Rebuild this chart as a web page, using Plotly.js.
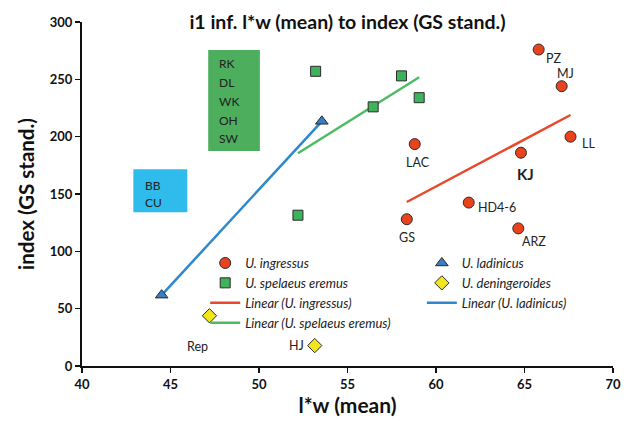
<!DOCTYPE html>
<html><head><meta charset="utf-8">
<script src="https://cdn.plot.ly/plotly-3.0.1.min.js"></script>
<style>html,body{margin:0;padding:0;background:#fff}#chart{width:631px;height:425px}</style>
</head><body><div id="chart"></div>
<script>
// U. ingressus
const ingLabels = ['PZ', 'MJ', 'LL', 'KJ', 'LAC', 'HD4-6', 'ARZ', 'GS'];
const ingX = [65.8, 67.1, 67.6, 64.8, 58.8, 61.85, 64.65, 58.35];
const ingY = [276, 244, 200, 186, 193.5, 142.5, 120, 128];
// U. spelaeus eremus
const speX = [53.2, 58.05, 56.45, 59.05, 52.2];
const speY = [257, 253, 226, 234, 131.5];
// U. ladinicus
const ladX = [44.5, 53.55];
const ladY = [61.8, 213.4];
// U. deningeroides
const denLabels = ['Rep', 'HJ'];
const denX = [47.2, 53.15];
const denY = [43.8, 17.8];
// group boxes
const greenBoxLabels = ['RK', 'DL', 'WK', 'OH', 'SW'];
const blueBoxLabels = ['BB', 'CU'];
const xTicks = [40, 45, 50, 55, 60, 65, 70];
const yTicks = [0, 50, 100, 150, 200, 250, 300];

function fit(xs, ys) {
  const n = xs.length;
  const mx = xs.reduce((a, b) => a + b, 0) / n;
  const my = ys.reduce((a, b) => a + b, 0) / n;
  let sxy = 0, sxx = 0;
  for (let i = 0; i < n; i++) { sxy += (xs[i] - mx) * (ys[i] - my); sxx += (xs[i] - mx) ** 2; }
  const b = sxy / sxx, a = my - b * mx;
  const x0 = Math.min(...xs), x1 = Math.max(...xs);
  return { x: [x0, x1], y: [a + b * x0, a + b * x1] };
}

const FONT = 'Lato, "Open Sans", sans-serif';
const RED = '#e8431f', GREEN = '#3fb25c', BLUE = '#3a7dc0', YEL = '#f3e51c';
const mline = { color: '#2b2b2b', width: 1 };

const fi = fit(ingX, ingY), fs = fit(speX, speY), fl = fit(ladX, ladY);

const traces = [
  { x: fi.x, y: fi.y, mode: 'lines', name: 'Linear (U. ingressus)', legend: 'legend', legendrank: 3,
    line: { color: '#e8482b', width: 2.5 } },
  { x: fl.x, y: fl.y, mode: 'lines', name: 'Linear (U. ladinicus)', legend: 'legend2', legendrank: 3,
    line: { color: '#2e88cc', width: 2.5 } },
  { x: fs.x, y: fs.y, mode: 'lines', name: 'Linear (U. spelaeus eremus)', legend: 'legend', legendrank: 4,
    line: { color: '#4cbb64', width: 2.5 } },
  { x: ingX, y: ingY, mode: 'markers', name: 'U. ingressus', legend: 'legend', legendrank: 1,
    marker: { symbol: 'circle', size: 11, color: RED, line: mline } },
  { x: ladX, y: ladY, mode: 'markers', name: 'U. ladinicus', legend: 'legend2', legendrank: 1,
    marker: { symbol: 'triangle-up', size: 11, color: BLUE, line: mline } },
  { x: speX, y: speY, mode: 'markers', name: 'U. spelaeus eremus', legend: 'legend', legendrank: 2,
    marker: { symbol: 'square', size: 10, color: GREEN, line: mline } },
  { x: denX, y: denY, mode: 'markers', name: 'U. deningeroides', legend: 'legend2', legendrank: 2,
    marker: { symbol: 'diamond', size: 11, color: YEL, line: mline } }
];

// label offsets in pixels
const ingShift = [[15, -9], [4, 13], [18, -7], [5, -21], [3, -18], [28, -5], [16, -13], [0, -18]];
const denShift = [[-12, -31], [-18, 0]];
const annotations = [];
ingLabels.forEach((t, i) => {
  annotations.push({ x: ingX[i], y: ingY[i], text: t, showarrow: false,
    xshift: ingShift[i][0], yshift: ingShift[i][1],
    font: { family: FONT, size: t === 'KJ' ? 15 : 12.5, color: '#222', weight: t === 'KJ' ? 'bold' : 'normal' } });
});
denLabels.forEach((t, i) => {
  annotations.push({ x: denX[i], y: denY[i], text: t, showarrow: false,
    xshift: denShift[i][0], yshift: denShift[i][1],
    font: { family: FONT, size: 12.5, color: '#222' } });
});
greenBoxLabels.forEach((t, i) => {
  annotations.push({ x: 47.6, y: 264 - i * 16.5, text: t, showarrow: false, xanchor: 'left',
    font: { family: FONT, size: 12, color: '#222' } });
});
blueBoxLabels.forEach((t, i) => {
  annotations.push({ x: 43.45, y: 157.5 - i * 15, text: t, showarrow: false, xanchor: 'left',
    font: { family: FONT, size: 12, color: '#222' } });
});

const shapes = [
  { type: 'rect', xref: 'x', yref: 'y', x0: 47.13, x1: 50.05, y0: 187.5, y1: 275.5,
    fillcolor: '#4dae5e', line: { width: 0 }, layer: 'below' },
  { type: 'rect', xref: 'x', yref: 'y', x0: 42.9, x1: 45.95, y0: 134, y1: 171.5,
    fillcolor: '#2fbbec', line: { width: 0 }, layer: 'below' }
];

const axisCommon = {
  showgrid: false, zeroline: false, showline: true, linecolor: '#111', linewidth: 2,
  ticks: 'outside', ticklen: 5, tickwidth: 1.5, tickcolor: '#111',
  tickfont: { family: FONT, size: 13, color: '#111', weight: 'bold' }
};

const legendCommon = {
  orientation: 'v', yanchor: 'top', xanchor: 'left', y: 0.343,
  bgcolor: 'rgba(0,0,0,0)', traceorder: 'normal', tracegroupgap: 0,
  font: { family: FONT, size: 13, color: '#222', style: 'italic' }
};

const layout = {
  width: 631, height: 425,
  margin: { l: 82, r: 18, t: 22, b: 59 },
  paper_bgcolor: '#fff', plot_bgcolor: '#fff',
  title: { text: 'i1 inf. l*w (mean) to index (GS stand.)', x: 0.5, xref: 'paper',
    y: 1 - 22 / 425, yref: 'container', yanchor: 'middle',
    font: { family: FONT, size: 19.5, color: '#111', weight: 'bold' } },
  xaxis: Object.assign({}, axisCommon, { range: [40, 70], tickvals: xTicks,
    title: { text: 'l*w (mean)', standoff: 7, font: { family: FONT, size: 21, color: '#111', weight: 'bold' } } }),
  yaxis: Object.assign({}, axisCommon, { range: [0, 300], tickvals: yTicks,
    title: { text: 'index (GS stand.)', standoff: 10, font: { family: FONT, size: 20.5, color: '#111', weight: 'bold' } } }),
  showlegend: true,
  legend: Object.assign({}, legendCommon, { x: 0.232 }),
  legend2: Object.assign({}, legendCommon, { x: 0.640 }),
  annotations: annotations,
  shapes: shapes
};

Plotly.newPlot('chart', traces, layout, { displayModeBar: false, staticPlot: true });
</script>
</body></html>
